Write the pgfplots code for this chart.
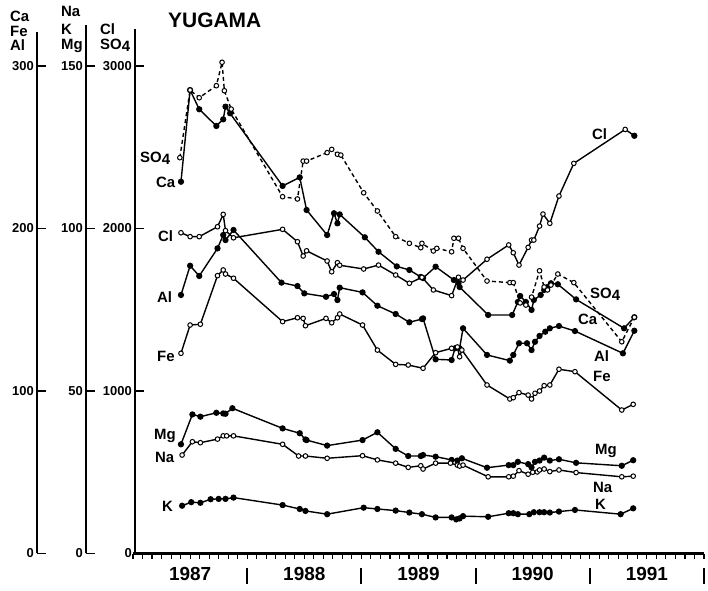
\documentclass[border=0pt]{standalone}
\usepackage{pgfplots}
\pgfplotsset{compat=1.18}
\usepackage{pgfplotstable}
\usepackage{fontspec}
\setmainfont{Liberation Sans}

% time in decimal years; SO4 and Cl in the Cl/SO4 scale units
\pgfplotstableread{
t v
1987.41 2436
1987.50 2852
1987.58 2805
1987.73 2879
1987.78 3023
1987.80 2848
1987.86 2735
1988.31 2196
1988.44 2182
1988.49 2415
1988.52 2415
1988.70 2467
1988.74 2487
1988.79 2457
1988.82 2452
1989.02 2220
1989.14 2108
1989.30 1950
1989.42 1909
1989.52 1882
1989.53 1909
1989.63 1862
1989.66 1878
1989.79 1857
1989.81 1940
1989.85 1940
1989.89 1878
1990.10 1677
1990.30 1667
1990.33 1667
1990.39 1542
1990.44 1529
1990.49 1578
1990.56 1740
1990.60 1640
1990.63 1622
1990.66 1652
1990.72 1720
1990.86 1667
1991.28 1303
1991.39 1454
}\SOfour

\pgfplotstableread{
t v
1987.42 1974
1987.50 1950
1987.58 1950
1987.74 2011
1987.79 2087
1987.81 1987
1987.88 1943
1988.31 1995
1988.44 1919
1988.49 1831
1988.52 1863
1988.70 1800
1988.74 1734
1988.79 1790
1988.81 1774
1989.02 1751
1989.15 1775
1989.30 1714
1989.42 1663
1989.53 1700
1989.63 1622
1989.79 1587
1989.85 1700
1989.89 1683
1990.10 1811
1990.29 1899
1990.33 1851
1990.38 1775
1990.46 1884
1990.49 1929
1990.51 1929
1990.56 2015
1990.59 2089
1990.65 2032
1990.73 2200
1990.86 2401
1991.31 2610
1991.39 2571
}\Cl

\pgfplotstableread{
t v
1991.39 2571
}\Cllast

\pgfplotstableread{
t v
1987.42 228.8
1987.50 285.2
1987.58 273.4
1987.73 263.1
1987.79 267.2
1987.81 275.0
1987.85 270.9
1988.31 226.2
1988.46 231.5
1988.52 211.4
1988.70 196.0
1988.76 209.4
1988.79 203.2
1988.81 208.7
1989.03 194.6
1989.15 185.7
1989.31 176.7
1989.42 174.5
1989.52 170.2
1989.54 169.5
1989.65 176.5
1989.81 168.3
1989.85 166.5
1989.86 164.0
1990.11 146.8
1990.32 146.8
1990.37 154.8
1990.39 158.5
1990.44 154.8
1990.49 149.9
1990.51 156.0
1990.57 159.1
1990.60 162.2
1990.63 164.0
1990.66 166.3
1990.72 165.7
1990.88 156.4
1991.30 138.6
1991.39 145.4
}\Ca

\pgfplotstableread{
t v
1987.42 159.1
1987.50 177.1
1987.58 170.8
1987.74 187.8
1987.79 196.0
1987.81 192.9
1987.88 199.1
1988.30 166.7
1988.44 164.6
1988.50 160.1
1988.69 158.0
1988.76 159.7
1988.79 156.0
1988.81 163.6
1989.01 160.7
1989.14 152.5
1989.30 147.4
1989.42 142.3
1989.53 144.3
1989.54 144.7
1989.65 119.5
1989.79 119.1
1989.82 126.3
1989.86 126.3
1989.89 138.6
1990.10 122.2
1990.30 118.7
1990.33 122.2
1990.38 129.4
1990.45 129.4
1990.49 125.2
1990.52 130.3
1990.56 133.9
1990.61 136.5
1990.65 138.6
1990.73 140.0
1990.87 136.9
1991.29 123.2
1991.39 137.1
}\Al

\pgfplotstableread{
t v
1987.42 123.2
1987.50 140.6
1987.59 141.1
1987.74 171.0
1987.79 174.5
1987.81 172.0
1987.88 169.4
1988.31 142.7
1988.44 145.1
1988.49 144.7
1988.51 140.2
1988.69 144.7
1988.74 142.0
1988.79 145.1
1988.81 147.4
1989.01 140.6
1989.14 125.2
1989.30 116.4
1989.41 116.0
1989.54 114.0
1989.65 123.6
1989.79 126.3
1989.84 127.1
1989.86 121.1
1989.88 125.2
1990.10 103.7
1990.30 95.1
1990.33 95.9
1990.38 99.0
1990.46 97.5
1990.49 95.1
1990.52 98.6
1990.56 100.0
1990.60 103.3
1990.65 103.7
1990.73 113.4
1990.87 111.9
1991.28 88.3
1991.38 91.8
}\Fe

\pgfplotstableread{
t v
1987.42 33.6
1987.52 42.8
1987.59 42.1
1987.73 43.3
1987.79 43.1
1987.81 43.0
1987.87 44.7
1988.31 38.5
1988.46 37.0
1988.51 35.1
1988.52 34.9
1988.70 33.2
1989.01 34.9
1989.14 37.3
1989.30 32.2
1989.41 30.0
1989.52 30.0
1989.54 30.3
1989.65 29.8
1989.79 28.8
1989.84 28.6
1989.88 29.3
1990.10 26.4
1990.29 27.2
1990.33 27.2
1990.37 28.2
1990.46 27.5
1990.49 26.5
1990.52 28.2
1990.56 28.6
1990.60 29.5
1990.65 28.6
1990.73 29.0
1990.88 27.9
1991.28 27.0
1991.38 28.7
}\Mg

\pgfplotstableread{
t v
1987.43 30.3
1987.52 34.4
1987.59 34.1
1987.74 35.2
1987.79 36.2
1987.82 36.2
1987.88 36.2
1988.31 33.6
1988.45 30.0
1988.51 30.0
1988.70 29.3
1989.01 30.1
1989.14 28.8
1989.30 27.8
1989.41 26.5
1989.52 27.0
1989.54 26.0
1989.65 27.8
1989.78 27.8
1989.84 27.2
1989.86 26.9
1989.89 27.2
1990.11 23.6
1990.29 23.6
1990.33 23.8
1990.38 25.5
1990.46 24.4
1990.50 25.0
1990.54 25.1
1990.56 25.7
1990.60 26.0
1990.65 25.2
1990.73 25.7
1990.88 24.9
1991.28 23.6
1991.38 23.8
}\Na

\pgfplotstableread{
t v
1987.43 14.7
1987.51 15.8
1987.59 15.6
1987.68 16.7
1987.75 16.8
1987.81 16.8
1987.88 17.2
1988.31 14.9
1988.46 13.7
1988.51 13.1
1988.70 12.1
1989.02 14.1
1989.14 13.7
1989.30 13.2
1989.42 12.6
1989.53 12.1
1989.65 11.1
1989.79 11.1
1989.83 10.5
1989.86 10.8
1989.89 11.5
1990.11 11.3
1990.29 12.4
1990.33 12.4
1990.37 12.1
1990.47 12.1
1990.51 12.7
1990.56 12.7
1990.60 12.7
1990.65 12.6
1990.73 12.9
1990.87 13.4
1991.27 12.1
1991.38 13.9
}\K

\pgfplotsset{
  yaxisonly/.style={scale only axis, width=20bp, anchor=south west,
    axis x line=none, axis y line=left, axis line style={-, line width=2bp},
    xmin=0, xmax=1, xtick=\empty, ymin=0, tick align=inside,
    major tick length=9bp, tick style={black, line width=1.5bp},
    yticklabel style={font=\fontsize{13}{13}\selectfont\bfseries, inner sep=0pt, anchor=east, xshift=-3bp}},
  filled/.style={black, line width=1.4bp, mark=*, mark size=2.4bp, mark options={solid, fill=black}},
  open/.style={black, line width=1.4bp, mark=*, mark size=2.3bp, mark options={solid, fill=white, line width=1bp}},
}
\newcommand{\lab}{\fontsize{15}{15}\selectfont\bfseries}
\newcommand{\SOf}{SO\raisebox{-1.5bp}{4}}

\begin{document}
\begin{tikzpicture}
\useasboundingbox (0,0) rectangle (708bp,591bp);

% outer y axes
\begin{axis}[yaxisonly, at={(37bp,37.5bp)}, height=521.6bp, ymax=321,
  ytick={0,100,200,300}, yticklabels={0,100,200,300}]
\addplot[draw=none] coordinates {(0,0)};
\end{axis}
\begin{axis}[yaxisonly, at={(86bp,37.5bp)}, height=528.1bp, ymax=162.5,
  ytick={0,50,100,150}, yticklabels={0,50,100,150}]
\addplot[draw=none] coordinates {(0,0)};
\end{axis}
\begin{axis}[yaxisonly, at={(135bp,37.5bp)}, height=524.1bp, ymax=3225,
  ytick={0,1000,2000,3000}, yticklabels={0,1000,2000,3000}]
\addplot[draw=none] coordinates {(0,0)};
\end{axis}

% data axis
\begin{axis}[scale only axis, width=571bp, height=523.2bp, at={(133bp,37.5bp)}, anchor=south west,
  xmin=1987, xmax=1992, ymin=0, ymax=3220, clip=false,
  axis x line=bottom, axis y line=none, axis line style={-, line width=2bp},
  tick align=outside, major tick length=5bp, minor tick length=5bp,
  tick style={black, line width=1.1bp},
  xtick={1987,1988,1989,1990,1991,1992},
  xticklabels={{},{\rule{2bp}{16bp}},{\rule{2bp}{16bp}},{\rule{2bp}{16bp}},{\rule{2bp}{16bp}},{\rule{2bp}{16bp}}},
  minor x tick num=11,
  xticklabel style={font=\fontsize{19}{19}\selectfont\bfseries, inner sep=0pt, anchor=north, yshift=-9bp},
  extra x ticks={1987.5,1988.5,1989.5,1990.5,1991.5},
  extra x tick labels={1987,1988,1989,1990,1991},
  extra x tick style={tick style={draw=none}},
]
\addplot[filled] table[x=t, y expr=10*\thisrow{v}] {\Ca};
\addplot[filled] table[x=t, y expr=10*\thisrow{v}] {\Al};
\addplot[filled] table[x=t, y expr=20*\thisrow{v}] {\Mg};
\addplot[filled] table[x=t, y expr=20*\thisrow{v}] {\K};
\addplot[open, dash pattern=on 4bp off 3bp] table[x=t, y=v] {\SOfour};
\addplot[open] table[x=t, y=v] {\Cl};
\addplot[filled, only marks] table[x=t, y=v] {\Cllast};
\addplot[open] table[x=t, y expr=10*\thisrow{v}] {\Fe};
\addplot[open] table[x=t, y expr=20*\thisrow{v}] {\Na};
\end{axis}

% axis headers
\node[anchor=base west, inner sep=0, font=\lab] at (10bp,569bp) {Ca};
\node[anchor=base west, inner sep=0, font=\lab] at (10bp,554bp) {Fe};
\node[anchor=base west, inner sep=0, font=\lab] at (10bp,540bp) {Al};
\node[anchor=base west, inner sep=0, font=\lab] at (61bp,574bp) {Na};
\node[anchor=base west, inner sep=0, font=\lab] at (61bp,556bp) {K};
\node[anchor=base west, inner sep=0, font=\lab] at (61bp,541bp) {Mg};
\node[anchor=base west, inner sep=0, font=\lab] at (100bp,556bp) {Cl};
\node[anchor=base west, inner sep=0, font=\lab] at (100bp,541bp) {\SOf};
\node[anchor=base west, inner sep=0, font=\fontsize{21}{21}\selectfont\bfseries] at (168bp,563bp) {YUGAMA};

% curve labels, left
\node[anchor=base west, inner sep=0, font=\lab] at (140bp,428bp) {\SOf};
\node[anchor=base west, inner sep=0, font=\lab] at (156bp,403bp) {Ca};
\node[anchor=base west, inner sep=0, font=\lab] at (158bp,349bp) {Cl};
\node[anchor=base west, inner sep=0, font=\lab] at (157bp,288bp) {Al};
\node[anchor=base west, inner sep=0, font=\lab] at (157bp,229bp) {Fe};
\node[anchor=base west, inner sep=0, font=\lab] at (154bp,151bp) {Mg};
\node[anchor=base west, inner sep=0, font=\lab] at (155bp,128bp) {Na};
\node[anchor=base west, inner sep=0, font=\lab] at (162bp,79bp) {K};
% curve labels, right
\node[anchor=base west, inner sep=0, font=\lab] at (592bp,451bp) {Cl};
\node[anchor=base west, inner sep=0, font=\lab] at (590bp,292bp) {\SOf};
\node[anchor=base west, inner sep=0, font=\lab] at (578bp,266bp) {Ca};
\node[anchor=base west, inner sep=0, font=\lab] at (594bp,229bp) {Al};
\node[anchor=base west, inner sep=0, font=\lab] at (593bp,209bp) {Fe};
\node[anchor=base west, inner sep=0, font=\lab] at (595bp,136bp) {Mg};
\node[anchor=base west, inner sep=0, font=\lab] at (593bp,98bp) {Na};
\node[anchor=base west, inner sep=0, font=\lab] at (595bp,81bp) {K};
\end{tikzpicture}
\end{document}
